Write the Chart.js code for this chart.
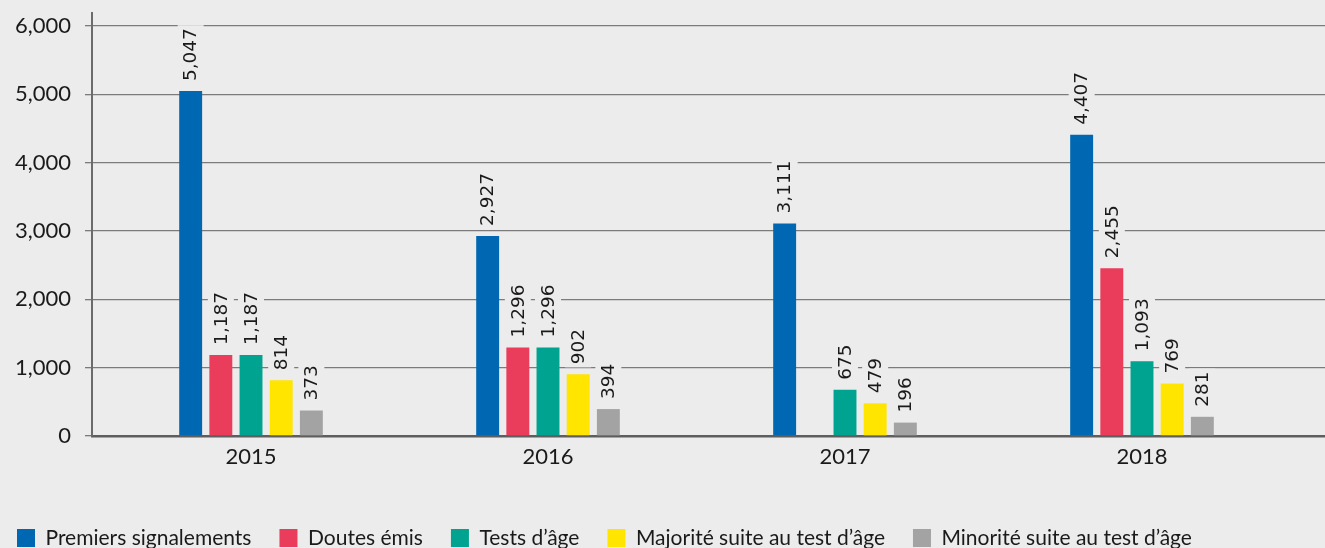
<!DOCTYPE html>
<html>
<head>
<meta charset="utf-8">
<script src="https://cdn.jsdelivr.net/npm/chart.js@4.4.1/dist/chart.umd.min.js"></script>
<style>
  html, body { margin: 0; padding: 0; background: #ececec; overflow: hidden; }
  canvas { display: block; }
</style>
</head>
<body>
<canvas id="myChart" width="1325" height="548"></canvas>
<script>
const years = [2015, 2016, 2017, 2018];
const premiersSignalements = [5047, 2927, 3111, 4407];
const doutesEmis = [1187, 1296, null, 2455];
const testsAge = [1187, 1296, 675, 1093];
const majorite = [814, 902, 479, 769];
const minorite = [373, 394, 196, 281];
const yTicks = [0, 1000, 2000, 3000, 4000, 5000, 6000];

const seriesNames = [
  "Premiers signalements",
  "Doutes émis",
  "Tests d’âge",
  "Majorité suite au test d’âge",
  "Minorité suite au test d’âge",
];
const seriesValues = [premiersSignalements, doutesEmis, testsAge, majorite, minorite];
const seriesColors = ["#0068b2", "#e93d5b", "#00a38f", "#ffe500", "#a3a3a3"];

const BG = "#ececec";
const TEXT = "#1a1a1a";

// étiquettes verticales au-dessus des barres
const valueLabels = {
  id: "valueLabels",
  afterDatasetsDraw(chart) {
    const ctx = chart.ctx;
    ctx.save();
    ctx.font = "18.5px 'DejaVu Sans'";
    ctx.textBaseline = "middle";
    ctx.textAlign = "left";
    chart.data.datasets.forEach((ds, i) => {
      const meta = chart.getDatasetMeta(i);
      meta.data.forEach((bar, j) => {
        const v = ds.data[j];
        if (v == null) return;
        const text = v.toLocaleString("en-US");
        const w = ctx.measureText(text).width;
        ctx.save();
        ctx.translate(bar.x, bar.y - 10);
        ctx.rotate(-Math.PI / 2);
        ctx.fillStyle = BG;
        ctx.fillRect(-3, -13, w + 6, 26);
        ctx.fillStyle = TEXT;
        ctx.fillText(text, 0, 1);
        ctx.restore();
      });
    });
    ctx.restore();
  },
};

const data = {
  labels: years,
  datasets: seriesNames.map((name, i) => ({
    label: name,
    data: seriesValues[i],
    backgroundColor: seriesColors[i],
    borderWidth: 0,
    categoryPercentage: 0.508,
    barPercentage: 0.76,
  })),
};

const config = {
  type: "bar",
  data: data,
  options: {
    responsive: false,
    animation: false,
    layout: { padding: { top: 13, left: -11, right: 0, bottom: -10.5 } },
    plugins: {
      tooltip: { enabled: false },
      legend: {
        position: "bottom",
        align: "start",
        labels: {
          boxWidth: 18,
          boxHeight: 18,
          padding: 28,
          color: TEXT,
          font: { family: "Lato", size: 21 },
        },
      },
    },
    scales: {
      x: {
        type: "linear",
        offset: false,
        min: 2014.4646,
        max: 2018.6162,
        afterBuildTicks: (scale) => { scale.ticks = years.map((v) => ({ value: v })); },
        afterFit: (scale) => { scale.height = 63.5; },
        grid: { display: false, drawTicks: false },
        border: { display: true, color: "#5e5e5e", width: 2.5 },
        ticks: {
          color: TEXT,
          padding: 8,
          font: { family: "Lato", size: 22 },
          callback: (v) => String(v),
        },
      },
      y: {
        min: 0,
        max: 6190,
        afterBuildTicks: (scale) => { scale.ticks = yTicks.map((v) => ({ value: v })); },
        afterFit: (scale) => {
          scale.width = 103;
          scale.paddingTop = 0;
          scale.paddingBottom = 0;
        },
        grid: { color: "#7b7b7b", lineWidth: 1.3, tickLength: 7 },
        border: { color: "#6b6b6b", width: 2 },
        ticks: {
          color: TEXT,
          padding: 14,
          font: { family: "Lato", size: 22 },
          callback: (v) => v.toLocaleString("en-US"),
        },
      },
    },
  },
  plugins: [valueLabels],
};

Promise.all([
  document.fonts.load("22px Lato"),
  document.fonts.load("18px 'DejaVu Sans'"),
]).finally(() => {
  const myChart = new Chart(document.getElementById("myChart"), config);
});
</script>
</body>
</html>
